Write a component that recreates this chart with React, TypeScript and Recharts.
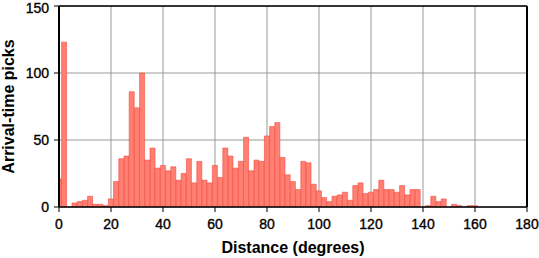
import React from "react";
import { BarChart, Bar, XAxis, YAxis, CartesianGrid } from "recharts";

const distances = [
  0, 2, 4, 6, 8, 10, 12, 14, 16, 18, 20, 22, 24, 26, 28, 30, 32, 34, 36, 38,
  40, 42, 44, 46, 48, 50, 52, 54, 56, 58, 60, 62, 64, 66, 68, 70, 72, 74, 76, 78,
  80, 82, 84, 86, 88, 90, 92, 94, 96, 98, 100, 102, 104, 106, 108, 110, 112, 114, 116, 118,
  120, 122, 124, 126, 128, 130, 132, 134, 136, 138, 140, 142, 144, 146, 148, 150, 152, 154, 156, 158,
  160, 162, 164, 166, 168, 170, 172, 174, 176, 178,
];

const picks = [
  21, 123, 0, 3, 4, 5, 8, 2, 2, 1, 6, 19, 36, 38, 86, 74, 100, 35, 44, 29,
  31, 27, 30, 20, 25, 36, 18, 34, 20, 18, 31, 22, 44, 38, 29, 34, 52, 27, 35, 34,
  53, 60, 63, 37, 24, 19, 13, 34, 33, 17, 12, 7, 4, 8, 9, 11, 5, 16, 18, 10,
  11, 13, 20, 13, 13, 11, 16, 9, 13, 13, 0, 1, 8, 4, 6, 0, 2, 1, 0, 1,
  1, 0, 0, 0, 0, 0, 0, 0, 0, 0,
];

const xTicks = [0, 20, 40, 60, 80, 100, 120, 140, 160, 180];
const yTicks = [0, 50, 100, 150];

const data = distances.map((d, i) => ({ d, n: picks[i] }));

const FONT = "'Liberation Sans', Arial, Helvetica, sans-serif";
const tickStyle = { fill: "#000", stroke: "#000", strokeWidth: 0.35, fontSize: 14, fontFamily: FONT };

export default function App() {
  return (
    <div style={{ position: "absolute", left: 0, top: 0, width: 539, height: 258, background: "#fff" }}>
      <BarChart
        width={539}
        height={258}
        data={data}
        margin={{ top: 0, right: 0, bottom: 0, left: 0 }}
        barCategoryGap={0}
        barGap={0}
      >
        <CartesianGrid stroke="#9a9a9a" strokeWidth={1} xAxisId="bottom" yAxisId="left" />
        <XAxis
          xAxisId="bottom"
          dataKey="d"
          type="number"
          domain={[0, 180]}
          ticks={xTicks}
          allowDataOverflow
          height={51}
          tick={tickStyle}
          tickSize={5}
          tickMargin={7}
          axisLine={{ stroke: "#000", strokeWidth: 1.5 }}
          tickLine={{ stroke: "#000", strokeWidth: 1 }}
          label={{
            value: "Distance (degrees)",
            position: "insideBottom",
            offset: 5,
            style: { fill: "#000", fontSize: 16, fontWeight: "bold", fontFamily: FONT },
          }}
        />
        <XAxis
          xAxisId="top"
          orientation="top"
          dataKey="d"
          type="number"
          domain={[0, 180]}
          ticks={xTicks}
          allowDataOverflow
          height={6}
          tick={false}
          tickSize={4}
          axisLine={{ stroke: "#000", strokeWidth: 1.5 }}
          tickLine={{ stroke: "#000", strokeWidth: 1 }}
        />
        <YAxis
          yAxisId="left"
          type="number"
          domain={[0, 150]}
          ticks={yTicks}
          allowDataOverflow
          width={59}
          tick={tickStyle}
          tickSize={5}
          tickMargin={5}
          axisLine={{ stroke: "#000", strokeWidth: 2 }}
          tickLine={{ stroke: "#000", strokeWidth: 1 }}
          label={{
            value: "Arrival-time picks",
            angle: -90,
            position: "insideLeft",
            offset: 8,
            style: { fill: "#000", fontSize: 16, fontWeight: "bold", fontFamily: FONT, textAnchor: "middle" },
          }}
        />
        <YAxis
          yAxisId="right"
          orientation="right"
          type="number"
          domain={[0, 150]}
          ticks={yTicks}
          allowDataOverflow
          width={12}
          tick={false}
          tickSize={4}
          axisLine={{ stroke: "#000", strokeWidth: 2 }}
          tickLine={{ stroke: "#000", strokeWidth: 1 }}
        />
        <Bar
          dataKey="n"
          xAxisId="bottom"
          yAxisId="left"
          fill="#ff8073"
          stroke="#f0463c"
          strokeWidth={0.6}
          isAnimationActive={false}
        />
      </BarChart>
    </div>
  );
}
